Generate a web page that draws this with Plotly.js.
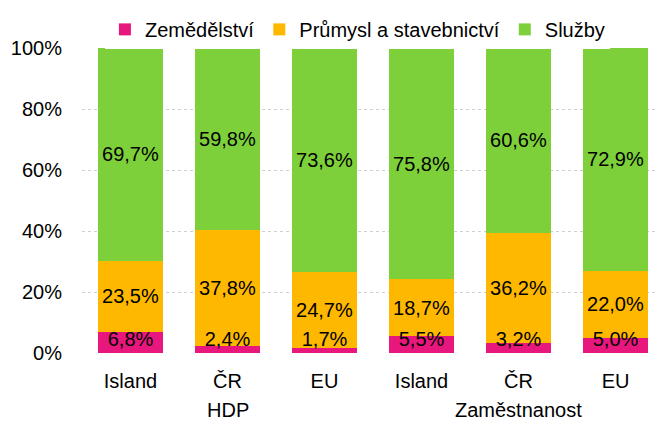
<!DOCTYPE html>
<html>
<head>
<meta charset="utf-8">
<script src="https://cdn.plot.ly/plotly-3.0.1.min.js"></script>
<style>html,body{margin:0;padding:0;background:#fff}#chart{width:655px;height:421px}</style>
</head>
<body>
<div id="chart"></div>
<script>
const categories = ["Island", "ČR", "EU", "Island", "ČR", "EU"];
const groupNames = ["HDP", "Zaměstnanost"];
const groupOf = [0, 0, 0, 1, 1, 1];
const seriesNames = ["Zemědělství", "Průmysl a stavebnictví", "Služby"];
const zemedelstvi = [6.8, 2.4, 1.7, 5.5, 3.2, 5.0];
const prumysl = [23.5, 37.8, 24.7, 18.7, 36.2, 22.0];
const sluzby = [69.7, 59.8, 73.6, 75.8, 60.6, 72.9];
const yTicks = [0, 20, 40, 60, 80, 100];
const yTickLabels = ["0%", "20%", "40%", "60%", "80%", "100%"];

const colors = ["#E8177D", "#FFB800", "#7ED03A"];
const values = [zemedelstvi, prumysl, sluzby];
const FONT = "Liberation Sans, Arial, sans-serif";
const FS = 20;
const idx = categories.map((c, i) => i);
const fmt = v => v.toFixed(1).replace(".", ",") + "%";

const traces = values.map((v, i) => ({
  type: "bar",
  name: seriesNames[i],
  x: idx,
  y: v,
  marker: {color: colors[i], line: {width: 0}},
  width: 0.67,
  text: v.map(fmt),
  texttemplate: i === 0 ? "" : "%{text}",
  textposition: i === 0 ? "none" : "inside",
  insidetextanchor: "middle",
  textangle: 0,
  constraintext: "none",
  textfont: {family: FONT, size: FS, color: "#000"},
  hoverinfo: "none"
}));

// labels of the thin bottom segment, lifted so they stay readable
traces.push({
  type: "scatter", mode: "text", showlegend: false, hoverinfo: "none",
  x: idx,
  y: zemedelstvi.map(v => Math.max(v / 2, 4)),
  text: zemedelstvi.map(fmt),
  textposition: "middle center",
  textfont: {family: FONT, size: FS, color: "#000"}
});

const groupAnn = groupNames.map((g, gi) => {
  const members = idx.filter(i => groupOf[i] === gi);
  const mid = members.reduce((a, b) => a + b, 0) / members.length;
  return {x: mid, xref: "x", y: -0.188, yref: "paper", yanchor: "middle", showarrow: false,
          text: g, font: {family: FONT, size: FS, color: "#000"}};
});

const layout = {
  width: 655, height: 421,
  margin: {l: 82, r: 0, t: 48, b: 68},
  barmode: "stack",
  font: {family: FONT, size: FS, color: "#000"},
  paper_bgcolor: "#fff", plot_bgcolor: "#fff",
  showlegend: true,
  legend: {orientation: "h", x: 0.04, xanchor: "left", y: 1.125, yanchor: "top",
           font: {family: FONT, size: FS, color: "#000"}, itemclick: false, traceorder: "normal"},
  xaxis: {range: [-0.5, 5.407], tickvals: idx, ticktext: categories,
          showline: false, ticks: "outside", ticklen: 10, tickcolor: "rgba(0,0,0,0)",
          showgrid: false, zeroline: false,
          tickfont: {family: FONT, size: FS, color: "#000"}},
  yaxis: {range: [0, 100], tickvals: yTicks, ticktext: yTickLabels, showgrid: true,
          gridcolor: "#d0d0d0", griddash: "dot", gridwidth: 1, zeroline: false,
          showline: false, ticks: "outside", ticklen: 15, tickcolor: "rgba(0,0,0,0)",
          tickfont: {family: FONT, size: FS, color: "#000"}},
  annotations: groupAnn
};

Plotly.newPlot("chart", traces, layout, {displayModeBar: false, staticPlot: true});
</script>
</body>
</html>
